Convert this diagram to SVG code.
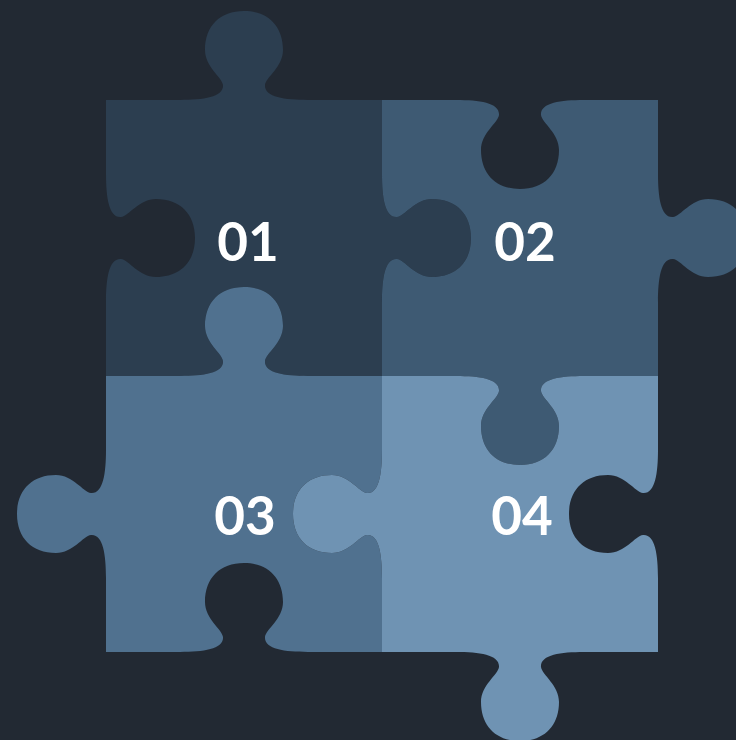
<svg xmlns="http://www.w3.org/2000/svg" width="736" height="740" viewBox="0 0 736 740">
<style>
.bg{fill:#222933}
.p1{fill:#2c3e50}
.p2{fill:#3e5a73}
.p3{fill:#50718f}
.p4{fill:#6f93b3}
.lbl{font-family:Lato,"Open Sans","Liberation Sans",sans-serif;font-weight:700;font-size:53px;fill:#ffffff;text-anchor:middle}
</style>
<rect class="bg" x="0" y="0" width="736" height="740"/>
<g id="piece-01">
<path class="p1" d="M106,100 H180 c 24,0 44,-3 43,-15 c -1,-8 -18,-18 -18,-35 c 0,-24 15,-39 39,-39 c 24,0 39,15 39,39 c 0,17 -17,27 -18,35 c -1,12 19,15 43,15 H382 V174 c 0,24 3,44 15,43 c 8,-1 18,-18 35,-18 c 24,0 39,15 39,39 c 0,24 -15,39 -39,39 c -17,0 -27,-17 -35,-18 c -12,-1 -15,19 -15,43 V376 H308 c -24,0 -44,-3 -43,-15 c 1,-8 18,-18 18,-35 c 0,-24 -15,-39 -39,-39 c -24,0 -39,15 -39,39 c 0,17 17,27 18,35 c 1,12 -19,15 -43,15 H106 V302 c 0,-24 3,-44 15,-43 c 8,1 18,18 35,18 c 24,0 39,-15 39,-39 c 0,-24 -15,-39 -39,-39 c -17,0 -27,17 -35,18 c -12,1 -15,-19 -15,-43 Z"/>
<text class="lbl" x="248" y="261">01</text>
</g>
<g id="piece-02">
<path class="p2" d="M382,100 H456 c 24,0 44,3 43,15 c -1,8 -18,18 -18,35 c 0,24 15,39 39,39 c 24,0 39,-15 39,-39 c 0,-17 -17,-27 -18,-35 c -1,-12 19,-15 43,-15 H658 V174 c 0,24 3,44 15,43 c 8,-1 18,-18 35,-18 c 24,0 39,15 39,39 c 0,24 -15,39 -39,39 c -17,0 -27,-17 -35,-18 c -12,-1 -15,19 -15,43 V376 H584 c -24,0 -44,3 -43,15 c 1,8 18,18 18,35 c 0,24 -15,39 -39,39 c -24,0 -39,-15 -39,-39 c 0,-17 17,-27 18,-35 c 1,-12 -19,-15 -43,-15 H382 V302 c 0,-24 3,-44 15,-43 c 8,1 18,18 35,18 c 24,0 39,-15 39,-39 c 0,-24 -15,-39 -39,-39 c -17,0 -27,17 -35,18 c -12,1 -15,-19 -15,-43 Z"/>
<text class="lbl" x="525" y="261">02</text>
</g>
<g id="piece-03">
<path class="p3" d="M106,376 H180 c 24,0 44,-3 43,-15 c -1,-8 -18,-18 -18,-35 c 0,-24 15,-39 39,-39 c 24,0 39,15 39,39 c 0,17 -17,27 -18,35 c -1,12 19,15 43,15 H382 V450 c 0,24 -3,44 -15,43 c -8,-1 -18,-18 -35,-18 c -24,0 -39,15 -39,39 c 0,24 15,39 39,39 c 17,0 27,-17 35,-18 c 12,-1 15,19 15,43 V652 H308 c -24,0 -44,-3 -43,-15 c 1,-8 18,-18 18,-35 c 0,-24 -15,-39 -39,-39 c -24,0 -39,15 -39,39 c 0,17 17,27 18,35 c 1,12 -19,15 -43,15 H106 V578 c 0,-24 -3,-44 -15,-43 c -8,1 -18,18 -35,18 c -24,0 -39,-15 -39,-39 c 0,-24 15,-39 39,-39 c 17,0 27,17 35,18 c 12,1 15,-19 15,-43 Z"/>
<text class="lbl" x="245" y="535">03</text>
</g>
<g id="piece-04">
<path class="p4" d="M382,376 H456 c 24,0 44,3 43,15 c -1,8 -18,18 -18,35 c 0,24 15,39 39,39 c 24,0 39,-15 39,-39 c 0,-17 -17,-27 -18,-35 c -1,-12 19,-15 43,-15 H658 V450 c 0,24 -3,44 -15,43 c -8,-1 -18,-18 -35,-18 c -24,0 -39,15 -39,39 c 0,24 15,39 39,39 c 17,0 27,-17 35,-18 c 12,-1 15,19 15,43 V652 H584 c -24,0 -44,3 -43,15 c 1,8 18,18 18,35 c 0,24 -15,39 -39,39 c -24,0 -39,-15 -39,-39 c 0,-17 17,-27 18,-35 c 1,-12 -19,-15 -43,-15 H382 V578 c 0,-24 -3,-44 -15,-43 c -8,1 -18,18 -35,18 c -24,0 -39,-15 -39,-39 c 0,-24 15,-39 39,-39 c 17,0 27,17 35,18 c 12,1 15,-19 15,-43 Z"/>
<text class="lbl" x="522" y="535">04</text>
</g>
<g id="connectors"/>
</svg>
